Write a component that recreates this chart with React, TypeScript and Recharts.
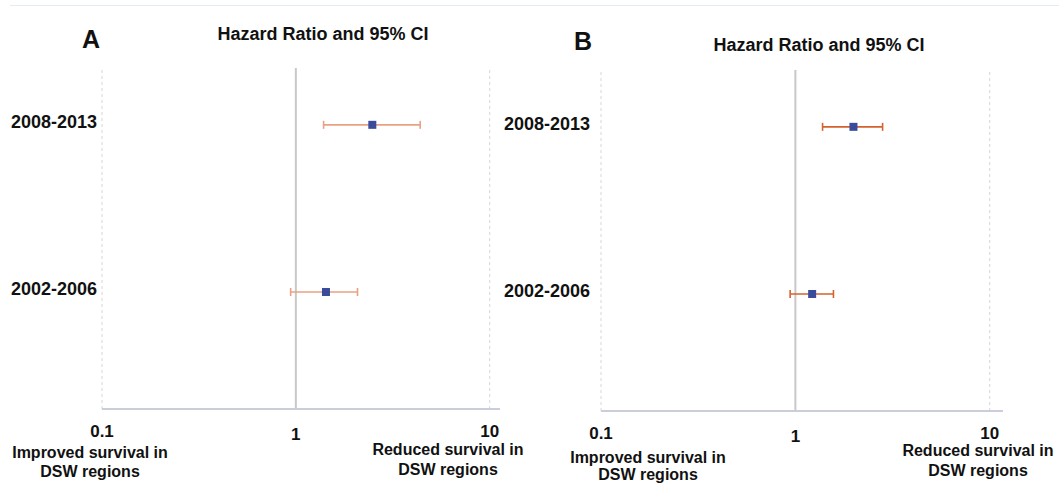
import React from "react";
import {
  ScatterChart,
  Scatter,
  XAxis,
  YAxis,
  ReferenceLine,
  ErrorBar,
} from "recharts";

// rows, bottom to top
const periods = ["2002-2006", "2008-2013"];

// panel A
const hrA = [1.43, 2.48];
const lowA = [0.94, 1.39];
const highA = [2.08, 4.38];

// panel B
const hrB = [1.22, 1.99];
const lowB = [0.94, 1.38];
const highB = [1.57, 2.81];

const xTicks = [0.1, 1, 10];

const FONT = "'Liberation Sans', Arial, sans-serif";

function buildRows(hr: number[], low: number[], high: number[]) {
  return periods.map((p, i) => ({
    row: i + 1,
    label: p,
    hr: hr[i],
    err: [hr[i] - low[i], high[i] - hr[i]],
  }));
}

const Square = (props: any) => {
  const { cx, cy } = props;
  if (cx == null || cy == null) return null;
  return <rect x={cx - 4} y={cy - 4} width={8} height={8} fill="#3a4b9c" />;
};

const XTick = (props: any) => {
  const { x, y, payload } = props;
  const extra = payload.value === 1 ? 3 : 0;
  return (
    <text
      x={x}
      y={y + 28 + extra}
      textAnchor="middle"
      fontFamily={FONT}
      fontWeight="bold"
      fontSize={17}
      fill="#111"
    >
      {payload.value}
    </text>
  );
};

const YTick = (props: any) => {
  const { x, y, payload } = props;
  return (
    <text
      x={x}
      y={y + 3}
      textAnchor="end"
      fontFamily={FONT}
      fontWeight="bold"
      fontSize={18}
      fill="#111"
    >
      {periods[payload.value - 1]}
    </text>
  );
};

function Panel({
  left,
  width,
  margin,
  yWidth,
  yGap,
  xMax,
  data,
  barColor,
}: {
  left: number;
  width: number;
  margin: { top: number; right: number; bottom: number; left: number };
  yWidth: number;
  yGap: number;
  xMax: number;
  data: any[];
  barColor: string;
}) {
  return (
    <div style={{ position: "absolute", left, top: 0 }}>
      <ScatterChart width={width} height={485} margin={margin}>
        <XAxis
          dataKey="hr"
          type="number"
          scale="log"
          domain={[0.1, xMax]}
          ticks={xTicks}
          allowDataOverflow
          height={30}
          tickLine={false}
          tickSize={0}
          tickMargin={0}
          axisLine={{ stroke: "#c9ceda", strokeWidth: 2 }}
          tick={<XTick />}
          interval={0}
        />
        <YAxis
          dataKey="row"
          type="number"
          domain={[0.3, 2.34]}
          ticks={[1, 2]}
          width={yWidth}
          axisLine={false}
          tickLine={false}
          tickSize={0}
          tickMargin={yGap}
          tick={<YTick />}
          interval={0}
        />
        <ReferenceLine x={0.1} stroke="#d3d6de" strokeDasharray="3 3" />
        <ReferenceLine x={10} stroke="#d3d6de" strokeDasharray="3 3" />
        <ReferenceLine x={1} stroke="#c8c8c8" strokeWidth={2} />
        <Scatter data={data} shape={<Square />} isAnimationActive={false}>
          <ErrorBar
            dataKey="err"
            direction="x"
            width={4}
            stroke={barColor}
            strokeWidth={1.6}
          />
        </Scatter>
      </ScatterChart>
    </div>
  );
}

function Label({
  cx,
  cy,
  size,
  lines,
  lineHeight,
}: {
  cx: number;
  cy: number;
  size: number;
  lines: string[];
  lineHeight: number;
}) {
  return (
    <div
      style={{
        position: "absolute",
        left: cx - 150,
        width: 300,
        top: cy - (lines.length * lineHeight) / 2,
        textAlign: "center",
        fontFamily: FONT,
        fontWeight: "bold",
        fontSize: size,
        lineHeight: `${lineHeight}px`,
        color: "#111",
        whiteSpace: "nowrap",
      }}
    >
      {lines.map((l) => (
        <div key={l}>{l}</div>
      ))}
    </div>
  );
}

export default function App() {
  const dataA = buildRows(hrA, lowA, highA);
  const dataB = buildRows(hrB, lowB, highB);

  return (
    <div
      style={{
        position: "absolute",
        left: 0,
        top: 0,
        width: 1059,
        height: 485,
        background: "#fff",
        overflow: "hidden",
      }}
    >
      <div
        style={{
          position: "absolute",
          left: 10,
          right: 0,
          top: 5,
          borderTop: "1px solid #e3ebf5",
        }}
      />
      <Panel
        left={0}
        width={520}
        margin={{ top: 68, right: 20, bottom: 46, left: 12 }}
        yWidth={90}
        yGap={5}
        xMax={11.3}
        data={dataA}
        barColor="#e8a283"
      />
      <Panel
        left={490}
        width={569}
        margin={{ top: 70, right: 56, bottom: 44, left: 11 }}
        yWidth={100}
        yGap={11}
        xMax={11.7}
        data={dataB}
        barColor="#d4622f"
      />

      <Label cx={91} cy={39} size={25} lines={["A"]} lineHeight={28} />
      <Label cx={323} cy={34} size={18} lines={["Hazard Ratio and 95% CI"]} lineHeight={20} />
      <Label cx={583} cy={41} size={25} lines={["B"]} lineHeight={28} />
      <Label cx={819} cy={45} size={18} lines={["Hazard Ratio and 95% CI"]} lineHeight={20} />

      <Label cx={90} cy={462} size={16} lines={["Improved survival in", "DSW regions"]} lineHeight={19} />
      <Label cx={448} cy={460} size={16} lines={["Reduced survival in", "DSW regions"]} lineHeight={20} />
      <Label cx={648} cy={466} size={16} lines={["Improved survival in", "DSW regions"]} lineHeight={17} />
      <Label cx={978} cy={461} size={16} lines={["Reduced survival in", "DSW regions"]} lineHeight={20} />
    </div>
  );
}
